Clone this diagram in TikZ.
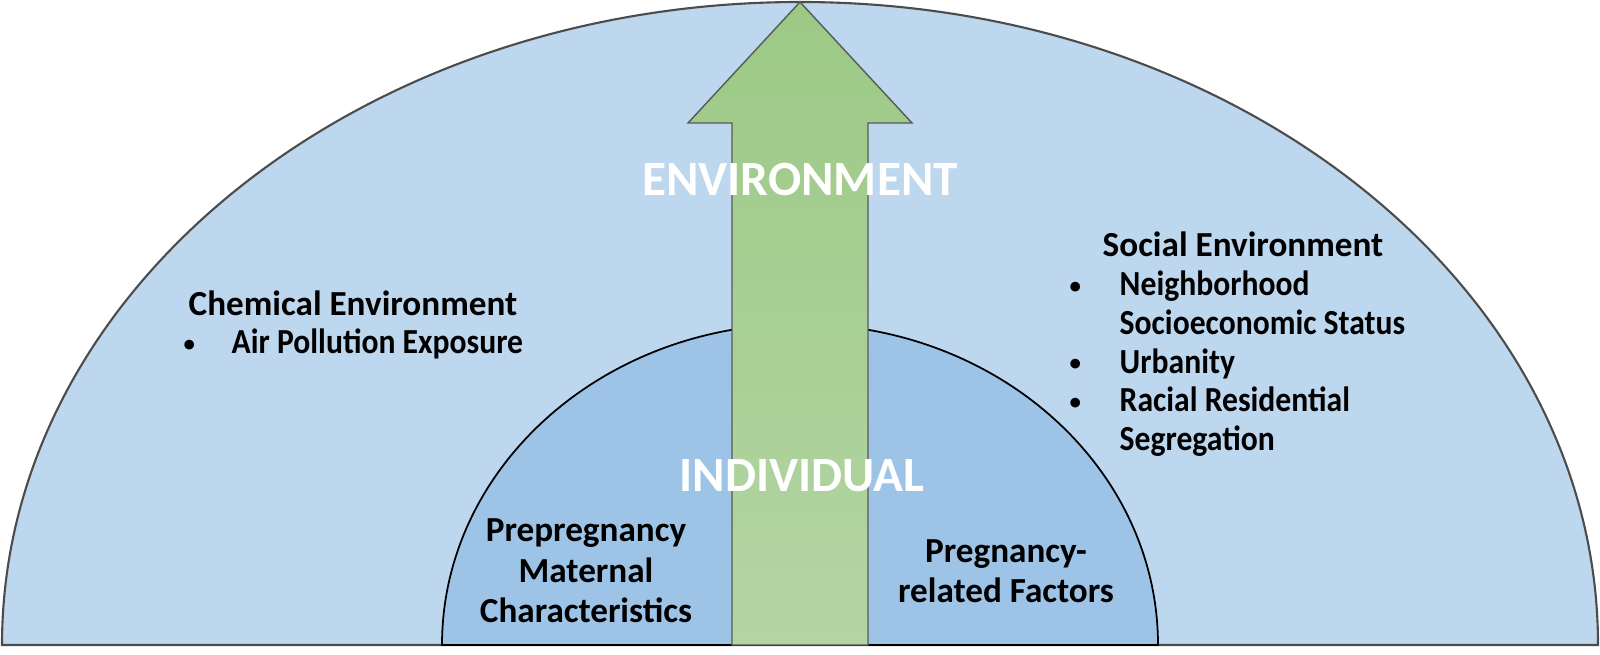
\documentclass[tikz,border=0pt]{standalone}
\usepackage{fontspec}
\setmainfont{Carlito}
\newfontfamily\itemfont[FakeStretch=0.9]{Carlito}
\usetikzlibrary{positioning}
\definecolor{outerblue}{HTML}{BDD7EE}
\definecolor{innerblue}{HTML}{9DC3E6}
\definecolor{arrowtop}{HTML}{9CC985}
\definecolor{arrowbot}{HTML}{B4D5A4}
\newcommand{\smallbul}{\raisebox{0.15ex}{\scalebox{0.65}{\textbullet}}}

\begin{document}
\begin{tikzpicture}[x=0.01cm, y=0.01cm,
    txt/.style={font=\fontsize{10}{11}\selectfont\bfseries, inner sep=0pt},
    inner txt/.style={txt, align=center, font=\fontsize{10}{11.5}\selectfont\bfseries},
    big/.style={font=\fontsize{14}{16}\selectfont\bfseries, text=white, inner sep=0pt}]
    \useasboundingbox (0,0) rectangle (1600,654);
    \filldraw[fill=outerblue, draw=black!70, line width=0.6pt] (2,9) arc[start angle=180, end angle=0, x radius=798, y radius=643] -- cycle;
    \filldraw[fill=innerblue, draw=black, line width=0.5pt] (442,9) arc[start angle=180, end angle=0, x radius=358, y radius=321] -- cycle;
    \draw[top color=arrowtop, bottom color=arrowbot, draw=black!65, line width=0.4pt]
        (732,9) -- (732,531) -- (688,531) -- (800,652) -- (912,531) -- (868,531) -- (868,9) -- cycle;

    \node[big] (envlabel) at (800,474) {ENVIRONMENT};
    \node[big] (indlabel) at (802,178) {INDIVIDUAL};

    \node[txt, anchor=base west] (chemical) at (183,339) {\begin{tabular}[t]{@{}p{0.48cm}@{}l@{}}
        \multicolumn{2}{@{}l@{}}{\hspace*{0.05cm}Chemical Environment}\\
        \smallbul & \itemfont Air Pollution Exposure
    \end{tabular}};
    \node[txt, anchor=base west] (social) at (1069,397) {\begin{tabular}[t]{@{}p{0.5cm}@{}l@{}}
        \multicolumn{2}{@{}l@{}}{\hspace*{0.33cm}Social Environment}\\
        \smallbul & \itemfont Neighborhood\\
        & \itemfont Socioeconomic Status\\
        \smallbul & \itemfont Urbanity\\
        \smallbul & \itemfont Racial Residential\\
        & \itemfont Segregation
    \end{tabular}};

    \node[inner txt] (prepregnancy) at (586,83) {Prepregnancy\\Maternal\\Characteristics};
    \node[inner txt] (pregnancy) at (1006,83) {Pregnancy-\\related Factors};
\end{tikzpicture}
\end{document}
